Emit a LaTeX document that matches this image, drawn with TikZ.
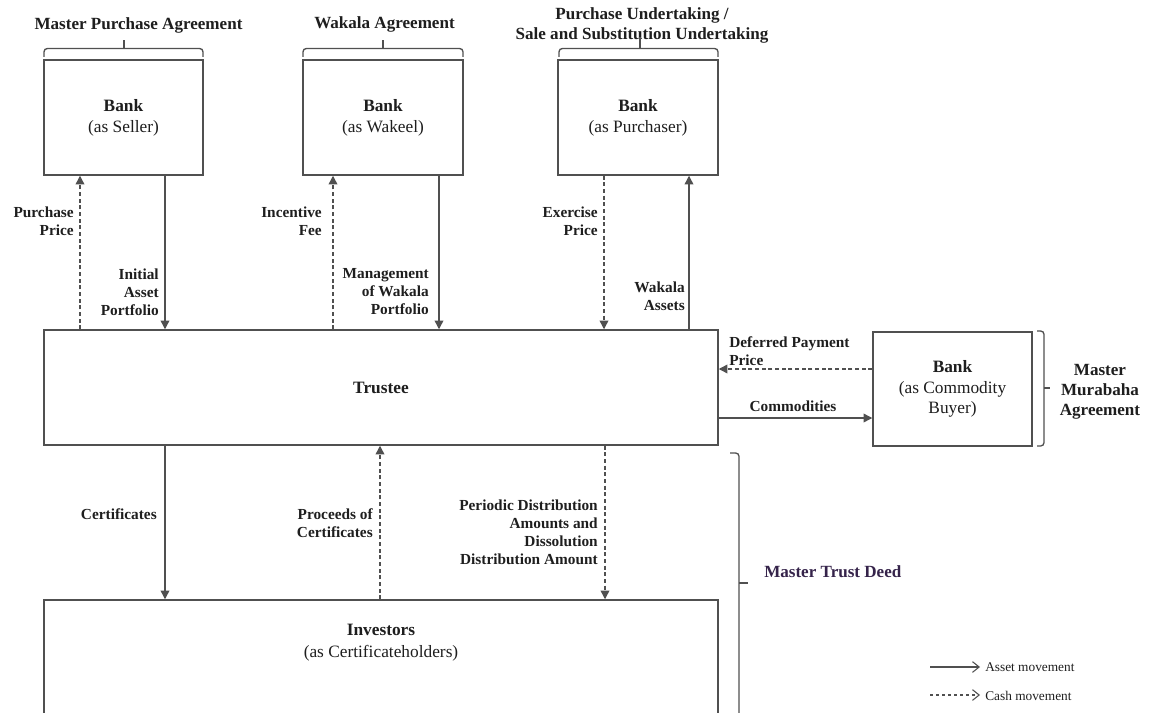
\documentclass[tikz,border=0pt]{standalone}
\usepackage{fontspec}
\setmainfont{Liberation Serif}
\usetikzlibrary{arrows.meta}
\definecolor{ln}{HTML}{505050}
\definecolor{tx}{HTML}{1E1E1E}
\definecolor{deed}{HTML}{35234A}
\begin{document}
\begin{tikzpicture}[x=0.75pt,y=-0.75pt,
  box/.style={draw=ln, line width=1.1pt, fill=white, inner sep=0pt, align=center, text=tx,
              font=\fontsize{13}{15.5}\selectfont},
  lab/.style={font=\bfseries\fontsize{11.5}{13.5}\selectfont, text=tx, inner sep=0pt, align=right, anchor=east},
  head/.style={font=\bfseries\fontsize{12.8}{15}\selectfont, text=tx, inner sep=0pt, align=center},
  asset/.style={draw=ln, line width=1pt, -{Triangle[length=6.5pt,width=6.5pt]}},
  cash/.style={asset, dash pattern=on 3pt off 2pt},
  brc/.style={draw=ln, line width=1pt, rounded corners=2.5pt},
  legtxt/.style={anchor=west, font=\fontsize{10}{11}\selectfont, text=tx, inner sep=0pt},
  legarr/.style={draw=ln, line width=0.8pt, -{Straight Barb[length=5pt,width=8pt]}}]
\useasboundingbox (0,0) rectangle (1149,713);

% boxes
\node[box, minimum width=119.25pt, minimum height=86.25pt] (seller) at (123.5,117.5) {\textbf{Bank}\\(as Seller)};
\node[box, minimum width=120pt, minimum height=86.25pt] (wakeel) at (383,117.5) {\textbf{Bank}\\(as Wakeel)};
\node[box, minimum width=120pt, minimum height=86.25pt] (purch) at (638,117.5) {\textbf{Bank}\\(as Purchaser)};
\node[box, minimum width=505.5pt, minimum height=86.25pt] (trustee) at (381,387.5) {\textbf{Trustee}};
\node[box, minimum width=119.25pt, minimum height=85.5pt] (buyer) at (952.5,389) {\textbf{Bank}\\(as Commodity\\Buyer)};
\node[box, minimum width=505.5pt, minimum height=105pt] (inv) at (381,670) {};
\node[text=tx, align=center, inner sep=0pt, font=\fontsize{13}{16.5}\selectfont] (invtxt) at (381,643) {\textbf{Investors}\\(as Certificateholders)};

% headings and braces
\node[head] (hmpa) at (138.5,25) {Master Purchase Agreement};
\node[head] (hwa) at (384.5,24) {Wakala Agreement};
\node[head] (hpu) at (642,25) {Purchase Undertaking /\\Sale and Substitution Undertaking};
\draw[brc] (44,57) -- (44,48.5) -- (203,48.5) -- (203,57);
\draw[brc] (124,48.5) -- (124,40);
\draw[brc] (303,57) -- (303,48.5) -- (463,48.5) -- (463,57);
\draw[brc] (383,48.5) -- (383,40);
\draw[brc] (559,57) -- (559,48.5) -- (718,48.5) -- (718,57);
\draw[brc] (640,48.5) -- (640,37);

% right braces
\draw[brc] (1037,331) -- (1044,331) -- (1044,446) -- (1037,446);
\draw[brc] (1044,388) -- (1050,388);
\node[head] (lmma) at (1100,392) {Master\\Murabaha\\Agreement};
\draw[brc] (730,453) -- (739,453) -- (739,740);
\draw[brc] (739,583) -- (748,583);
\node[head, text=deed, anchor=west] (lmtd) at (764,572) {Master Trust Deed};

% top arrows
\draw[cash] (trustee.north -| 80,0) -- (seller.south -| 80,0);
\draw[asset] (seller.south -| 165,0) -- (trustee.north -| 165,0);
\draw[cash] (trustee.north -| 333,0) -- (wakeel.south -| 333,0);
\draw[asset] (wakeel.south -| 439,0) -- (trustee.north -| 439,0);
\draw[cash] (purch.south -| 604,0) -- (trustee.north -| 604,0);
\draw[asset] (trustee.north -| 689,0) -- (purch.south -| 689,0);
\node[lab] (lpp) at (74,221) {Purchase\\Price};
\node[lab] (liap) at (159,292) {Initial\\Asset\\Portfolio};
\node[lab] (lif) at (322,221) {Incentive\\Fee};
\node[lab] (lmwp) at (429,292) {Management\\of Wakala\\Portfolio};
\node[lab] (lep) at (598,221) {Exercise\\Price};
\node[lab] (lwa) at (685,296) {Wakala\\Assets};

% murabaha arrows
\draw[cash] (buyer.west |- 0,369) -- (trustee.east |- 0,369);
\draw[asset] (trustee.east |- 0,418) -- (buyer.west |- 0,418);
\node[lab, anchor=west, align=left] (ldp) at (729,351) {Deferred Payment\\Price};
\node[lab, anchor=center] (lcom) at (793,406) {Commodities};

% bottom arrows
\draw[asset] (trustee.south -| 165,0) -- (inv.north -| 165,0);
\draw[cash] (inv.north -| 380,0) -- (trustee.south -| 380,0);
\draw[cash] (trustee.south -| 605,0) -- (inv.north -| 605,0);
\node[lab] (lcert) at (157,514) {Certificates};
\node[lab] (lpoc) at (373,523.5) {Proceeds of\\Certificates};
\node[lab] (lpd) at (598,532.5) {Periodic Distribution\\Amounts and\\Dissolution\\Distribution Amount};

% legend
\coordinate (la1) at (930,667);
\coordinate (la2) at (980,667);
\coordinate (lc1) at (930,695);
\coordinate (lc2) at (980,695);
\draw[legarr] (la1) -- (la2);
\draw[legarr, dash pattern=on 2.5pt off 2pt] (lc1) -- (lc2);
\node[legtxt] (lat) at (985,667) {Asset movement};
\node[legtxt] (lct) at (985,696) {Cash movement};
\end{tikzpicture}
\end{document}
